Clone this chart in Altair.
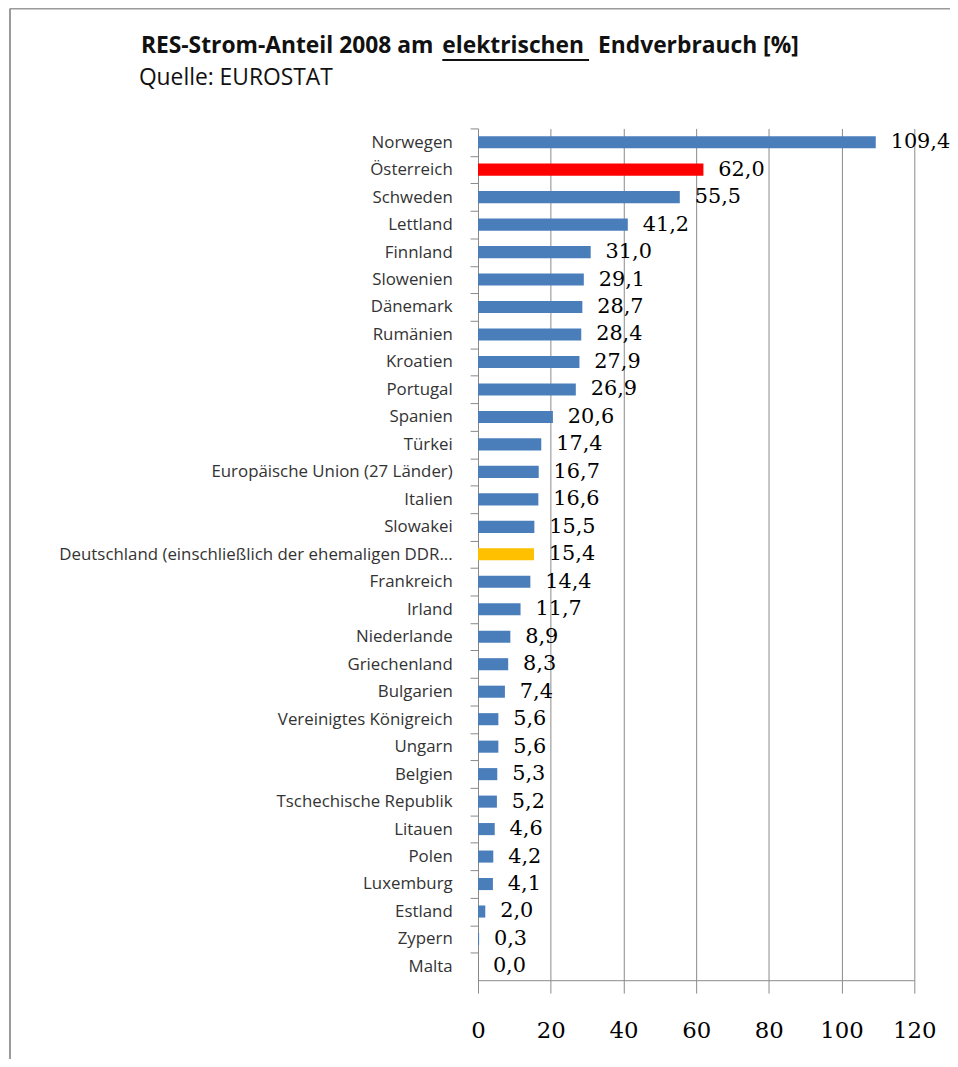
import altair as alt
import pandas as pd

countries = ["Norwegen", "Österreich", "Schweden", "Lettland", "Finnland", "Slowenien",
             "Dänemark", "Rumänien", "Kroatien", "Portugal", "Spanien", "Türkei",
             "Europäische Union (27 Länder)", "Italien", "Slowakei",
             "Deutschland (einschließlich der ehemaligen DDR...", "Frankreich", "Irland",
             "Niederlande", "Griechenland", "Bulgarien", "Vereinigtes Königreich", "Ungarn",
             "Belgien", "Tschechische Republik", "Litauen", "Polen", "Luxemburg", "Estland",
             "Zypern", "Malta"]
values = [109.4, 62.0, 55.5, 41.2, 31.0, 29.1, 28.7, 28.4, 27.9, 26.9, 20.6, 17.4, 16.7,
          16.6, 15.5, 15.4, 14.4, 11.7, 8.9, 8.3, 7.4, 5.6, 5.6, 5.3, 5.2, 4.6, 4.2, 4.1,
          2.0, 0.3, 0.0]
highlight = {"Österreich": "#FF0000", "Deutschland (einschließlich der ehemaligen DDR...": "#FFC000"}
x_ticks = [0, 20, 40, 60, 80, 100, 120]

title_a = "RES-Strom-Anteil 2008 am"
title_b = "elektrischen"
title_c = "Endverbrauch [%]"
subtitle = "Quelle: EUROSTAT"

df = pd.DataFrame({
    "country": countries,
    "value": values,
    "label": [f"{v:.1f}".replace(".", ",") for v in values],
    "color": [highlight.get(c, "#4A7EBB") for c in countries],
})

W, H = 440, 859
STEP = H / len(countries)
P = 0.56

y_enc = alt.Y("country:N", sort=countries,
              scale=alt.Scale(paddingInner=P, paddingOuter=P / 2),
              axis=alt.Axis(title=None, labelFont="Open Sans", labelFontSize=17,
                            labelColor="#333333", labelLimit=600, tickSize=8,
                            tickColor="#888888", domainColor="#888888", labelPadding=18,
                            tickOffset=-STEP / 2, labelOffset=STEP / 2, grid=False))
x_enc = alt.X("value:Q", scale=alt.Scale(domain=[0, 120], nice=False),
              axis=alt.Axis(values=x_ticks, title=None, tickSize=13, labelPadding=27,
                            labelFlush=False, grid=True, gridColor="#8a8a8a",
                            domainColor="#8a8a8a", tickColor="#8a8a8a",
                            labelFont="DejaVu Serif", labelFontSize=23,
                            labelColor="#000000", format="d"))

base = alt.Chart(df)
bars = base.mark_bar().encode(y=y_enc, x=x_enc, color=alt.Color("color:N", scale=None))
texts = base.mark_text(align="left", baseline="middle", dx=15, font="DejaVu Serif",
                       fontSize=21, color="#000000").encode(
    y=alt.Y("country:N", sort=countries), x="value:Q", text="label:N")

one = pd.DataFrame({"a": [0]})
t1 = alt.Chart(pd.DataFrame({"t": [title_a]})).mark_text(
    align="right", baseline="alphabetic", font="Open Sans", fontSize=23, fontWeight="bold",
    color="#111111").encode(x=alt.value(-45), y=alt.value(-76), text="t:N")
t2 = alt.Chart(pd.DataFrame({"t": [title_b]})).mark_text(
    align="left", baseline="alphabetic", font="Open Sans", fontSize=23, fontWeight="bold",
    color="#111111").encode(x=alt.value(-36), y=alt.value(-76), text="t:N")
t3 = alt.Chart(pd.DataFrame({"t": [title_c]})).mark_text(
    align="left", baseline="alphabetic", font="Open Sans", fontSize=23, fontWeight="bold",
    color="#111111").encode(x=alt.value(121), y=alt.value(-76), text="t:N")
t4 = alt.Chart(pd.DataFrame({"t": [subtitle]})).mark_text(
    align="left", baseline="alphabetic", font="Open Sans", fontSize=23,
    color="#111111").encode(x=alt.value(-342), y=alt.value(-44), text="t:N")
underline = alt.Chart(one).mark_rule(color="#111111", strokeWidth=2).encode(
    x=alt.value(-36), x2=alt.value(112), y=alt.value(-69))
frame_left = alt.Chart(one).mark_rule(color="#9a9a9a", strokeWidth=2).encode(
    x=alt.value(-472), y=alt.value(-121), y2=alt.value(1000))
frame_top = alt.Chart(one).mark_rule(color="#9a9a9a", strokeWidth=2).encode(
    x=alt.value(-472), x2=alt.value(1000), y=alt.value(-121))

chart = alt.layer(frame_left, frame_top, bars, texts, t1, t2, t3, t4, underline).properties(
    width=W, height=H,
    autosize=alt.AutoSizeParams(type="none"),
    padding={"left": 474, "top": 117, "right": 36, "bottom": 75},
    background="#ffffff",
).configure_view(stroke=None)

chart.save("out.html", embed_options={"renderer": "svg", "actions": False})
